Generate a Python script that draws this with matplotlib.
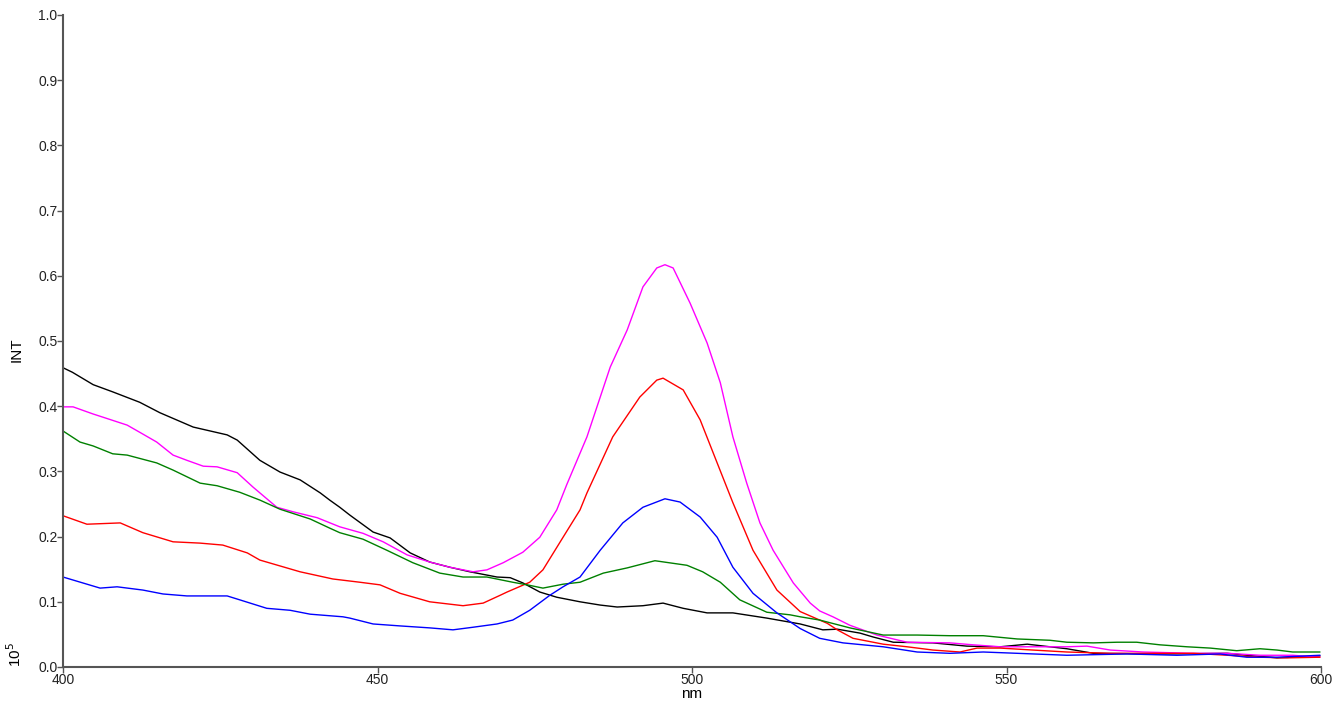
import numpy as np
import matplotlib.pyplot as plt

plt.rcParams['font.family'] = ['Liberation Sans', 'DejaVu Sans']

# widma (nm, INT x 10^5)
black_nm = [400, 401.5, 404.8, 407.9, 412.2, 415.4, 420.7, 426.1, 427.7, 431.3, 434.5, 437.7,
            440.9, 442.4, 444.0, 445.6, 449.3, 452.0, 455.2, 458.3, 461.5, 464.7, 469.0, 471.1,
            473.1, 475.8, 478.5, 482.2, 485.4, 488.1, 492.2, 495.4, 498.6, 502.4, 506.5, 511.9,
            517.2, 520.8, 523.1, 526.7, 528.8, 532.0, 538.3, 543.7, 549.0, 553.3, 556.9, 559.6,
            563.8, 574.4, 585.1, 588.2, 593.0, 599.8]
black_int = [0.459, 0.452, 0.433, 0.422, 0.406, 0.390, 0.368, 0.356, 0.348, 0.317, 0.299, 0.287,
             0.267, 0.256, 0.245, 0.233, 0.207, 0.198, 0.175, 0.161, 0.153, 0.146, 0.138, 0.137,
             0.129, 0.115, 0.107, 0.100, 0.095, 0.092, 0.094, 0.098, 0.090, 0.083, 0.083, 0.075,
             0.066, 0.057, 0.058, 0.052, 0.046, 0.038, 0.037, 0.032, 0.031, 0.035, 0.031, 0.028,
             0.021, 0.020, 0.021, 0.018, 0.014, 0.017]

magenta_nm = [400, 401.6, 404.8, 406.4, 410.2, 412.2, 414.9, 417.5, 419.7, 422.3, 424.5, 427.7,
              430.2, 434.0, 436.6, 440.4, 444.0, 447.7, 450.9, 454.7, 458.3, 461.5, 465.2, 467.4,
              470.0, 473.1, 475.8, 478.5, 480.1, 483.3, 487.0, 489.7, 492.2, 494.4, 495.7, 497.0,
              499.7, 502.4, 504.5, 506.5, 508.7, 510.8, 512.9, 516.1, 518.8, 520.3, 522.4, 525.1,
              529.4, 534.2, 541.0, 544.7, 549.0, 554.2, 559.6, 562.8, 566.5, 571.7, 579.7, 585.1,
              590.3, 595.5, 599.8]
magenta_int = [0.399, 0.399, 0.388, 0.383, 0.371, 0.360, 0.345, 0.325, 0.317, 0.308, 0.307, 0.298,
               0.276, 0.245, 0.238, 0.229, 0.215, 0.205, 0.192, 0.172, 0.161, 0.153, 0.146, 0.149,
               0.160, 0.176, 0.199, 0.241, 0.280, 0.353, 0.460, 0.517, 0.583, 0.612, 0.617, 0.612,
               0.558, 0.497, 0.436, 0.353, 0.282, 0.221, 0.179, 0.129, 0.098, 0.086, 0.077, 0.064,
               0.049, 0.038, 0.037, 0.034, 0.031, 0.031, 0.031, 0.032, 0.026, 0.023, 0.021, 0.021,
               0.018, 0.018, 0.015]

red_nm = [400, 403.8, 409.1, 412.7, 417.5, 421.8, 425.4, 429.3, 431.3, 437.7, 442.9, 447.2,
          450.4, 453.6, 458.3, 463.6, 466.8, 469.5, 470.6, 474.2, 476.3, 479.5, 482.2, 483.3,
          487.4, 491.7, 494.4, 495.4, 498.6, 501.3, 504.0, 506.5, 509.7, 513.5, 517.2, 520.3,
          521.5, 523.1, 525.6, 530.4, 534.2, 538.3, 542.6, 545.3, 549.0, 554.2, 559.6, 566.5,
          574.4, 579.7, 585.1, 590.3, 594.6, 599.8]
red_int = [0.232, 0.219, 0.221, 0.206, 0.192, 0.190, 0.187, 0.175, 0.164, 0.146, 0.135, 0.130,
           0.126, 0.113, 0.100, 0.094, 0.098, 0.110, 0.115, 0.130, 0.149, 0.199, 0.241, 0.267,
           0.353, 0.414, 0.440, 0.443, 0.425, 0.379, 0.313, 0.252, 0.179, 0.118, 0.085, 0.072,
           0.067, 0.057, 0.044, 0.035, 0.031, 0.026, 0.023, 0.029, 0.029, 0.026, 0.023, 0.021,
           0.021, 0.021, 0.018, 0.015, 0.014, 0.015]

green_nm = [400, 402.7, 404.8, 407.9, 410.2, 414.9, 417.5, 421.8, 424.5, 428.1, 431.3, 434.5,
            439.3, 442.4, 444.0, 447.7, 451.5, 455.6, 459.9, 463.6, 467.4, 471.5, 473.8, 476.3,
            479.5, 482.2, 485.9, 489.7, 494.1, 499.2, 501.7, 504.5, 507.6, 511.9, 515.6, 517.2,
            520.3, 521.5, 525.1, 530.4, 535.8, 541.0, 546.3, 551.7, 556.9, 559.6, 563.8, 567.6,
            570.7, 574.4, 578.7, 582.4, 586.6, 590.3, 593.0, 595.5, 599.8]
green_int = [0.362, 0.345, 0.339, 0.327, 0.325, 0.313, 0.302, 0.282, 0.278, 0.268, 0.256, 0.242,
             0.227, 0.213, 0.206, 0.196, 0.179, 0.160, 0.144, 0.138, 0.138, 0.130, 0.126, 0.121,
             0.127, 0.130, 0.144, 0.152, 0.163, 0.156, 0.146, 0.130, 0.103, 0.084, 0.080, 0.077,
             0.072, 0.069, 0.060, 0.049, 0.049, 0.048, 0.048, 0.043, 0.041, 0.038, 0.037, 0.038,
             0.038, 0.034, 0.031, 0.029, 0.025, 0.028, 0.026, 0.023, 0.023]

blue_nm = [400, 405.9, 408.6, 412.7, 415.9, 419.7, 426.1, 428.1, 432.4, 436.1, 439.3, 444.5,
           445.6, 449.3, 453.6, 458.3, 462.0, 465.2, 469.0, 471.5, 474.2, 477.4, 479.5, 482.2,
           485.4, 489.0, 492.2, 495.7, 498.1, 501.3, 504.0, 506.5, 509.7, 513.5, 517.2, 520.3,
           524.0, 530.4, 535.8, 541.0, 546.3, 551.7, 559.6, 569.2, 577.1, 583.9, 588.2, 593.0,
           599.8]
blue_int = [0.138, 0.121, 0.123, 0.118, 0.112, 0.109, 0.109, 0.103, 0.090, 0.087, 0.081, 0.077,
            0.075, 0.066, 0.063, 0.060, 0.057, 0.061, 0.066, 0.072, 0.087, 0.110, 0.123, 0.138,
            0.179, 0.221, 0.245, 0.258, 0.253, 0.230, 0.199, 0.153, 0.113, 0.083, 0.059, 0.044,
            0.037, 0.031, 0.023, 0.021, 0.023, 0.021, 0.018, 0.020, 0.018, 0.020, 0.015, 0.015,
            0.018]

serie = [
    (black_nm, black_int, 'black'),
    (magenta_nm, magenta_int, '#ff00ff'),
    (red_nm, red_int, '#ff0000'),
    (green_nm, green_int, '#008000'),
    (blue_nm, blue_int, '#0000ff'),
]

fig = plt.figure(figsize=(13.42, 7.01), dpi=100)
ax = fig.add_axes([63 / 1342, 34 / 701, 1258 / 1342, 652 / 701])

for nm, val, kolor in serie:
    ax.plot(nm, val, color=kolor, linewidth=1.0)

ax.set_xlim(400, 600)
ax.set_ylim(0, 1.0)
ax.set_xticks([400, 450, 500, 550, 600])
ax.set_yticks(np.arange(0, 1.01, 0.1))
ax.yaxis.set_major_formatter(plt.FormatStrFormatter('%.1f'))

for s in ['top', 'right']:
    ax.spines[s].set_visible(False)
for s in ['left', 'bottom']:
    ax.spines[s].set_color('#555555')
    ax.spines[s].set_linewidth(1.5)

ax.tick_params(direction='out', length=4, width=1, color='#555555',
               labelsize=10, labelcolor='#222222', pad=0)

ax.set_xlabel('nm', fontsize=11, labelpad=0)
fig.text(17 / 1342, 1 - 350 / 701, 'INT', rotation=90, fontsize=11,
         ha='center', va='center')
fig.text(15 / 1342, 1 - 655 / 701, r'10$^5$', rotation=90, fontsize=11,
         ha='center', va='center')

plt.savefig('out.png', dpi=100)
